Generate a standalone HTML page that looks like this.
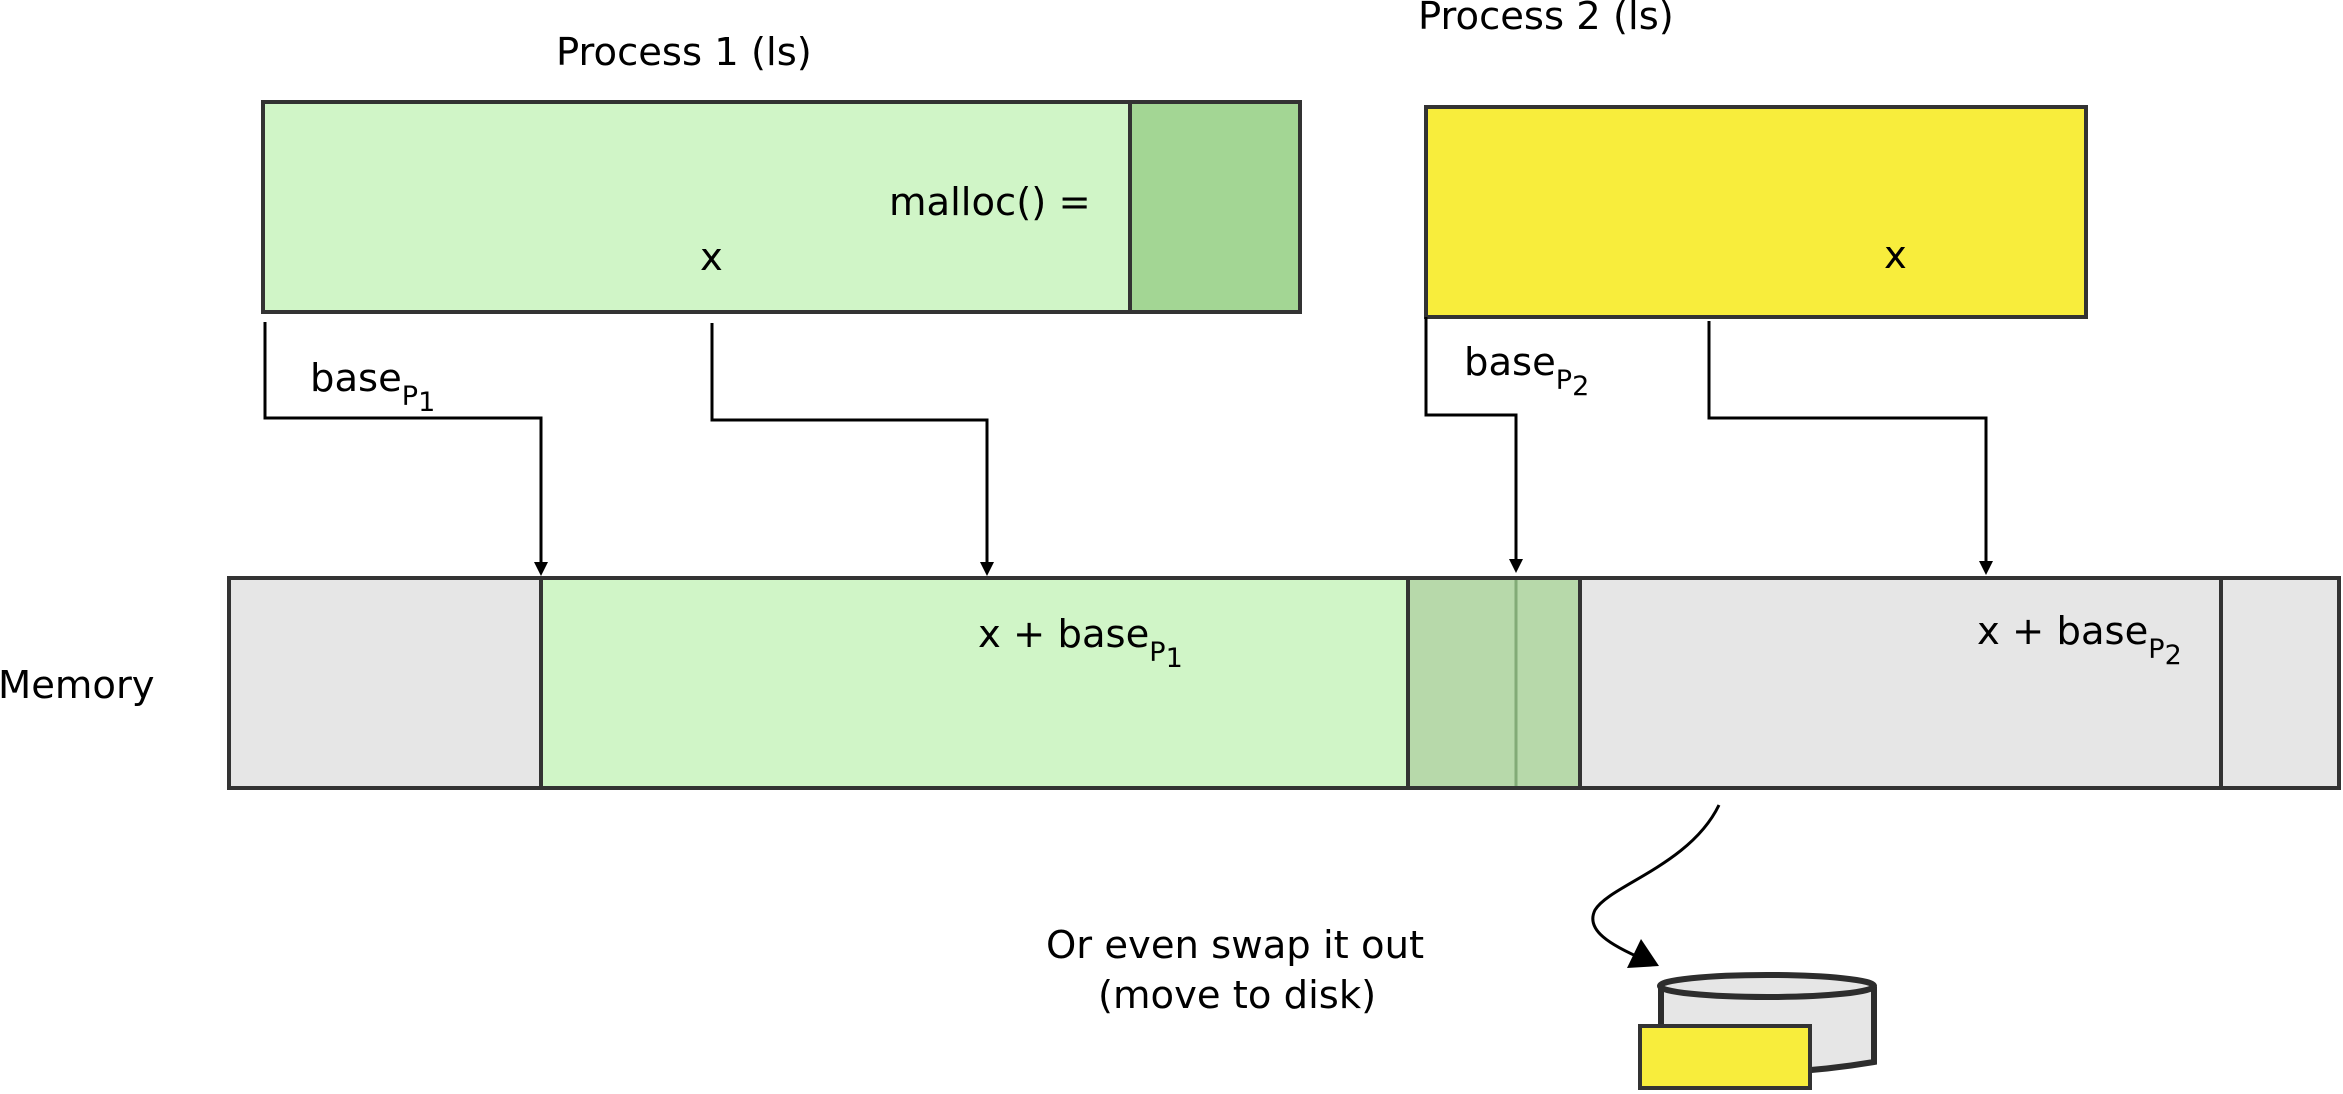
<!DOCTYPE html>
<html><head><meta charset="utf-8"><style>
html,body{margin:0;padding:0;background:#fff;}
svg{display:block;}
text{font-family:"DejaVu Sans","Liberation Sans",sans-serif;font-size:38.5px;fill:#000;}
</style></head><body>
<svg width="2343" height="1094" viewBox="0 0 2343 1094" xmlns="http://www.w3.org/2000/svg">
<!-- titles -->
<text x="556" y="65">Process 1 (ls)</text>
<text x="1418" y="29">Process 2 (ls)</text>
<!-- P1 box -->
<rect x="263" y="102" width="867" height="210" fill="#d0f5c7" stroke="#333" stroke-width="4"/>
<rect x="1130" y="102" width="170" height="210" fill="#a3d694" stroke="#333" stroke-width="4"/>
<text x="889" y="215">malloc() =</text>
<text x="700" y="270">x</text>
<!-- P2 box -->
<rect x="1426" y="107" width="660" height="210" fill="#f8ed3c" stroke="#333" stroke-width="4"/>
<text x="1884" y="268">x</text>
<!-- connectors -->
<g fill="none" stroke="#000" stroke-width="3">
<polyline points="265,322 265,418 541,418 541,566"/>
<polyline points="712,323 712,420 987,420 987,566"/>
<polyline points="1426,317 1426,415 1516,415 1516,562"/>
<polyline points="1709,321 1709,418 1986,418 1986,564"/>
</g>
<g fill="#000">
<polygon points="534,562 548,562 541,576"/>
<polygon points="980,562 994,562 987,576"/>
<polygon points="1509,559 1523,559 1516,573"/>
<polygon points="1979,561 1993,561 1986,575"/>
</g>
<text x="310" y="391">base<tspan font-size="27" dy="14">P</tspan><tspan font-size="27" dy="6">1</tspan></text>
<text x="1464" y="375">base<tspan font-size="27" dy="14">P</tspan><tspan font-size="27" dy="6">2</tspan></text>
<!-- memory -->
<text x="-2" y="698">Memory</text>
<rect x="229" y="578" width="312" height="210" fill="#e6e6e6" stroke="#333" stroke-width="4"/>
<rect x="541" y="578" width="867" height="210" fill="#d0f5c7" stroke="#333" stroke-width="4"/>
<rect x="1408" y="578" width="172" height="210" fill="#b7d9aa" stroke="#333" stroke-width="4"/>
<line x1="1516" y1="580" x2="1516" y2="786" stroke="#82ab76" stroke-width="3"/>
<rect x="1580" y="578" width="641" height="210" fill="#e6e6e6" stroke="#333" stroke-width="4"/>
<rect x="2221" y="578" width="118" height="210" fill="#e6e6e6" stroke="#333" stroke-width="4"/>
<text x="978" y="647">x + base<tspan font-size="27" dy="14">P</tspan><tspan font-size="27" dy="6">1</tspan></text>
<text x="1977" y="644">x + base<tspan font-size="27" dy="14">P</tspan><tspan font-size="27" dy="6">2</tspan></text>
<!-- swap curve -->
<path d="M1719,805 C1690,865 1610,885 1595,910 C1585,930 1610,945 1645,960" fill="none" stroke="#000" stroke-width="3"/>
<polygon points="1659,966 1627,968 1641,939" fill="#000"/>
<text x="1046" y="958" font-size="39.5">Or even swap it out</text>
<text x="1098" y="1008" font-size="39.5">(move to disk)</text>
<!-- disk -->
<path d="M1661,987 L1661,1069 Q1767,1080 1874,1062 L1874,987" fill="#e6e6e6" stroke="#2d2d2d" stroke-width="6"/>
<ellipse cx="1767" cy="986" rx="107" ry="11" fill="#e6e6e6" stroke="#2d2d2d" stroke-width="6"/>
<rect x="1640" y="1026" width="170" height="62" fill="#f8ed3c" stroke="#333" stroke-width="4"/>
</svg>
</body></html>
